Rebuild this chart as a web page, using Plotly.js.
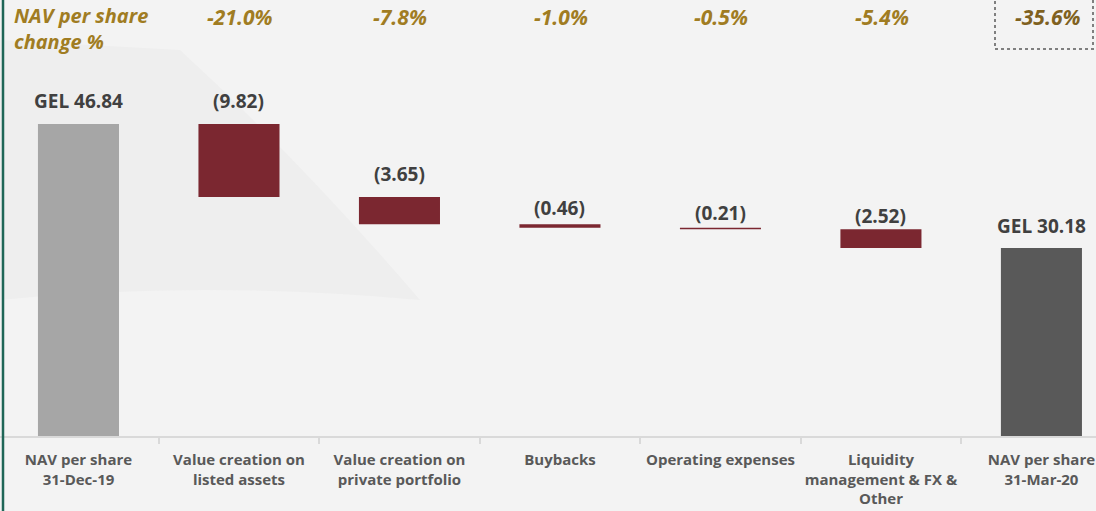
<!DOCTYPE html>
<html>
<head>
<meta charset="utf-8">
<script src="https://cdn.plot.ly/plotly-3.0.1.min.js"></script>
<style>
  html, body { margin: 0; padding: 0; background: #f3f3f3; }
  #chart { width: 1096px; height: 511px; }
</style>
</head>
<body>
<div id="chart"></div>
<script>
// ---- Data ----
const categories = [
  "NAV per share<br>31-Dec-19",
  "Value creation on<br>listed assets",
  "Value creation on<br>private portfolio",
  "Buybacks",
  "Operating expenses",
  "Liquidity<br>management & FX &<br>Other",
  "NAV per share<br>31-Mar-20"
];
const measures = ["absolute", "relative", "relative", "relative", "relative", "relative", "total"];
const values = [46.84, -9.82, -3.65, -0.46, -0.21, -2.52, 30.18];
const valueLabels = ["GEL 46.84", "(9.82)", "(3.65)", "(0.46)", "(0.21)", "(2.52)", "GEL 30.18"];
const pctLabels = ["", "-21.0%", "-7.8%", "-1.0%", "-0.5%", "-5.4%", "-35.6%"];
const headerLabel = "NAV per share<br>change %";

// ---- Style: label offsets (pixels) above each bar ----
const labelShift = [8, 8, 8, 1, 0, -2, 7];

// ---- Derived bar geometry from values ----
const bases = [], lengths = [], tops = [];
let running = 0;
for (let i = 0; i < values.length; i++) {
  if (measures[i] === "relative") {
    const start = running;
    running = running + values[i];
    bases.push(running);
    lengths.push(start - running);
    tops.push(start);
  } else {
    running = values[i];
    bases.push(0);
    lengths.push(values[i]);
    tops.push(values[i]);
  }
}
const colors = measures.map((m, i) => m === "absolute" ? "#a6a6a6" : (m === "total" ? "#595959" : "#7b2730"));

const W = 1096, PH = 436;
const px = x => x / W;
const py = y => (PH - y) / PH;

const trace = {
  type: "bar",
  x: categories,
  y: lengths,
  base: bases,
  width: 0.505,
  marker: { color: colors, line: { width: 0 } },
  hoverinfo: "skip"
};

const annotations = [];
for (let i = 0; i < categories.length; i++) {
  annotations.push({
    x: categories[i], y: tops[i], xref: "x", yref: "y",
    text: "<b>" + valueLabels[i] + "</b>",
    showarrow: false, yanchor: "bottom", yshift: labelShift[i],
    font: { family: "Open Sans, sans-serif", size: 19, color: "#404040" }
  });
  if (pctLabels[i]) {
    annotations.push({
      x: categories[i], y: py(17), xref: "x", yref: "paper",
      xshift: i === categories.length - 1 ? 6 : 1,
      text: "<b><i>" + pctLabels[i] + "</i></b>",
      showarrow: false, yanchor: "middle",
      font: { family: "Open Sans, sans-serif", size: 21, color: i === categories.length - 1 ? "#7f611f" : "#a07c22" }
    });
  }
}
annotations.push({
  x: px(12), y: py(29), xref: "paper", yref: "paper",
  xanchor: "left", yanchor: "middle", align: "left",
  text: "<b><i>" + headerLabel + "</i></b>",
  showarrow: false,
  font: { family: "Open Sans, sans-serif", size: 20, color: "#a07c22" }
});

const shapes = [
  // decorative background swoosh
  {
    type: "path", xref: "paper", yref: "paper", layer: "below",
    path: "M " + px(0) + "," + py(40) + " L " + px(180) + "," + py(50) +
          " Q " + px(300) + "," + py(160) + " " + px(420) + "," + py(300) +
          " Q " + px(200) + "," + py(280) + " " + px(0) + "," + py(300) + " Z",
    fillcolor: "#eeeeee", line: { width: 0 }
  },
  // dotted box around the total %
  {
    type: "rect", xref: "paper", yref: "paper",
    x0: px(995), x1: px(1093), y0: py(49), y1: py(-6),
    line: { color: "#7f7f7f", width: 2, dash: "dot" }
  },
  // left green border
  {
    type: "line", xref: "paper", yref: "paper",
    x0: px(3), x1: px(3), y0: py(511), y1: py(0),
    line: { color: "#1f6657", width: 2.5 }
  }
];

const layout = {
  width: 1096, height: 511,
  margin: { l: 0, r: 0, t: 0, b: 75, pad: 0 },
  paper_bgcolor: "#f3f3f3",
  plot_bgcolor: "rgba(0,0,0,0)",
  showlegend: false,
  bargap: 0.5,
  xaxis: {
    type: "category",
    range: [-0.489, 6.34],
    showline: true, linecolor: "#d9d9d9", linewidth: 2,
    ticks: "outside", tickson: "boundaries", ticklen: 6, tickcolor: "#d9d9d9", tickwidth: 2,
    ticklabelstandoff: 9,
    tickangle: 0,
    showgrid: false, zeroline: false,
    tickfont: { family: "Open Sans, sans-serif", size: 15, color: "#595959", weight: "bold" },
    fixedrange: true
  },
  yaxis: {
    range: [4.92, 63.5],
    visible: false, showgrid: false, zeroline: false, fixedrange: true
  },
  annotations: annotations,
  shapes: shapes
};

Plotly.newPlot("chart", [trace], layout, { displayModeBar: false, staticPlot: true });
</script>
</body>
</html>
